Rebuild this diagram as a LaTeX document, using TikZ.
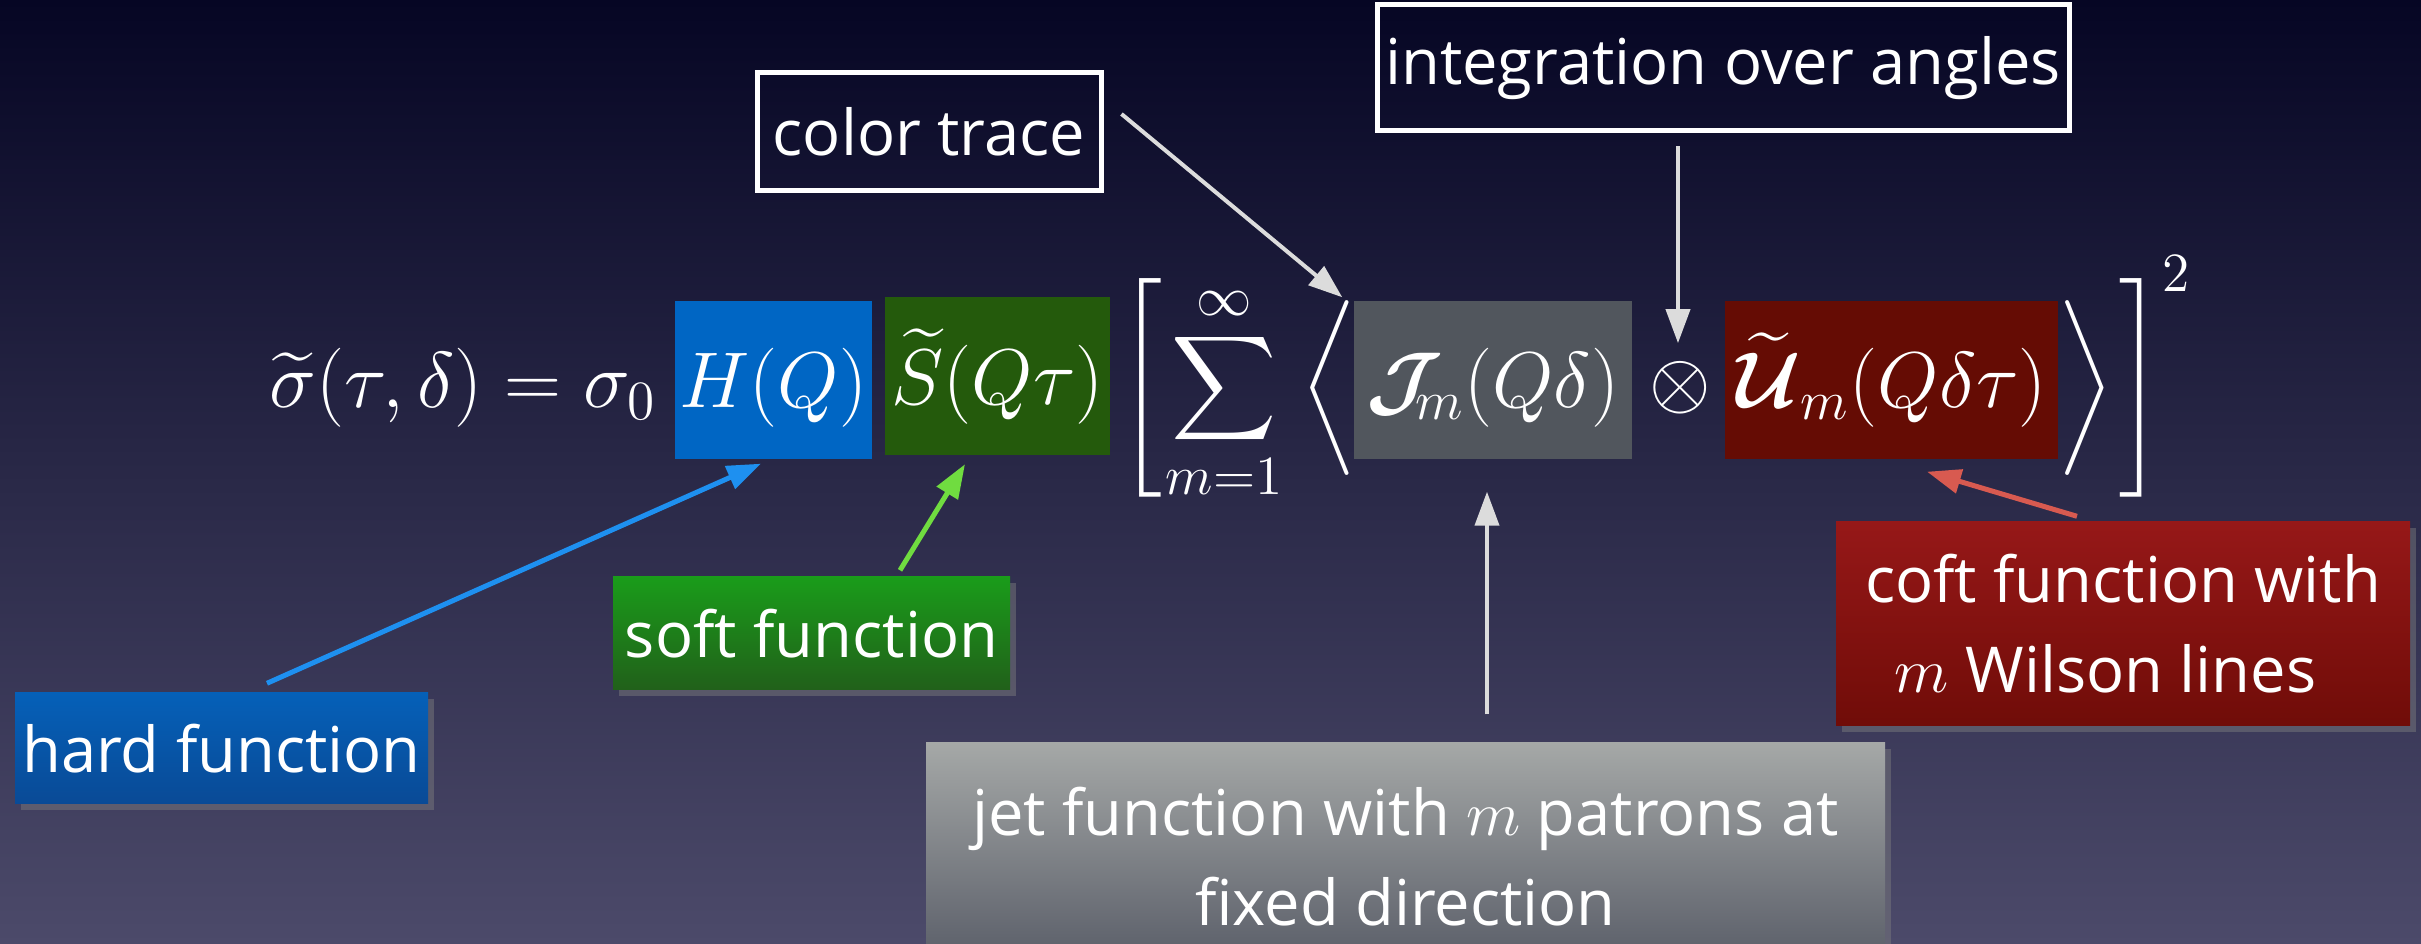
\RequirePackage{fix-cm}
\documentclass[tikz,border=0pt]{standalone}
\usepackage{amsmath}
\usepackage{bm}
\usepackage[no-math]{fontspec}
\newfontfamily\lblfont{Open Sans}
\usetikzlibrary{arrows.meta,calc,shadows}
\definecolor{bgtop}{HTML}{060624}
\definecolor{bgbot}{HTML}{4C4A6A}
\definecolor{Hcol}{HTML}{0066C4}
\definecolor{Scol}{HTML}{245A0C}
\definecolor{Jcol}{HTML}{51565D}
\definecolor{Ucol}{HTML}{650C04}
\definecolor{hardtop}{HTML}{0560B8}
\definecolor{hardbot}{HTML}{094A96}
\definecolor{softtop}{HTML}{1A9C1A}
\definecolor{softbot}{HTML}{21601A}
\definecolor{jettop}{HTML}{A5A8A7}
\definecolor{jetbot}{HTML}{575B66}
\definecolor{cofttop}{HTML}{961818}
\definecolor{coftbot}{HTML}{700C08}
\definecolor{arrgray}{HTML}{DCDCDC}
\definecolor{arrblue}{HTML}{1E90F0}
\definecolor{arrgreen}{HTML}{70DC40}
\definecolor{arrred}{HTML}{D85A50}
\begin{document}
\begin{tikzpicture}[x=0.1mm,y=-0.1mm,
  mathtxt/.style={text=white,inner sep=0pt,font=\fontsize{22.5}{28}\selectfont},
  mbox/.style={mathtxt,text height=6.5mm,text depth=0.9mm,minimum height=15.8mm},
  outlined/.style={draw=white,line width=0.5mm,text=white,inner sep=0pt,
    font=\lblfont\fontsize{18}{25.6}\selectfont},
  filled/.style={text=white,inner sep=0pt,align=center,
    font=\lblfont\fontsize{18}{25.6}\selectfont,
    drop shadow={opacity=0.45,shadow xshift=0.6mm,shadow yshift=-0.6mm}},
  garrow/.style={draw=arrgray,line width=0.4mm,-{Triangle[length=3.4mm,width=2.4mm]}},
  carrow/.style={line width=0.5mm,-{Triangle[length=3.4mm,width=2.4mm]}}]
\useasboundingbox (0,0) rectangle (2421,944);
\shade[top color=bgtop,bottom color=bgbot] (0,0) rectangle (2421,944);

% formula
\node[mathtxt,anchor=base east] (lhs) at (657,408) {$\widetilde{\sigma}(\tau,\delta) = \sigma_0$};
\node[mbox,fill=Hcol,minimum width=19.7mm] (H) at (773.5,380) {$H(Q)$};
\node[mbox,fill=Scol,minimum width=22.5mm] (S) at (997.5,376.5) {$\widetilde{S}(Q\tau)$};
\node[mathtxt,anchor=base] (lbr) at (1143,408) {$\left[\vrule height 39.1pt depth 27.9pt width 0pt\right.$};
\node[mathtxt,anchor=base] (sum) at (1224,408) {$\displaystyle\sum_{m=1}^{\infty}$};
\node[mathtxt,anchor=base] (lang) at (1331,408) {$\left\langle\vrule height 27.1pt depth 15.9pt width 0pt\right.$};
\node[mbox,fill=Jcol,minimum width=27.8mm] (J) at (1493,380) {$\bm{\mathcal{J}}_{\kern-0.35em m}(Q\delta)$};
\node[mathtxt,anchor=base] (otimes) at (1680,408) {$\otimes$};
\node[mbox,fill=Ucol,minimum width=33.3mm] (U) at (1891.5,380) {$\widetilde{\bm{\mathcal{U}}}_m(Q\delta\tau)$};
\node[mathtxt,anchor=base] (rang) at (2084,408) {$\left.\vrule height 27.1pt depth 15.9pt width 0pt\right\rangle$};
\node[mathtxt,anchor=base west] (rbr) at (2115,408) {$\left.\vrule height 39.1pt depth 27.9pt width 0pt\right]^2$};

% labels
\node[outlined,minimum width=34.4mm,minimum height=11.8mm] (ct) at (929,132) {color trace};
\node[outlined,minimum width=69.2mm,minimum height=12.6mm] (ia) at (1723,68) {integration over angles};
\node[filled,top color=hardtop,bottom color=hardbot,minimum width=41.3mm,minimum height=11.1mm] (hard) at (221.5,748.5) {hard function};
\node[filled,top color=softtop,bottom color=softbot,minimum width=39.7mm,minimum height=11.3mm] (soft) at (811.5,633.5) {soft function};
\node[filled,top color=jettop,bottom color=jetbot,minimum width=95.9mm,minimum height=22.7mm] (jet) at (1405.5,856.5) {jet function with $m$ patrons at\\fixed direction};
\node[filled,top color=cofttop,bottom color=coftbot,minimum width=57.4mm,minimum height=20.4mm] (coft) at (2123,624) {coft function with\\$m$ Wilson lines\hspace*{3.5mm}};

% connectors
\draw[carrow,draw=arrblue] ([xshift=4.55mm,yshift=0.9mm]hard.north) -- ([xshift=-1.25mm,yshift=-0.4mm]H.south);
\draw[carrow,draw=arrgreen] ([xshift=8.85mm,yshift=0.6mm]soft.north) -- ([xshift=-3.25mm,yshift=-0.8mm]S.south);
\draw[garrow] ([xshift=1.8mm,yshift=1.8mm]ct.east) -- ([xshift=-1.1mm,yshift=0.3mm]J.north west);
\draw[garrow] ([xshift=-4.5mm,yshift=-1.3mm]ia.south) -- ([xshift=-4.5mm,yshift=1.8mm]ia.south |- otimes.north);
\draw[garrow] ($(J.south |- jet.north)+(-6,-28)$) -- ($(J.south)+(-6,32)$);
\draw[carrow,draw=arrred] ([xshift=-4.6mm,yshift=0.5mm]coft.north) -- ([xshift=3.55mm,yshift=-1.2mm]U.south);
\end{tikzpicture}
\end{document}
